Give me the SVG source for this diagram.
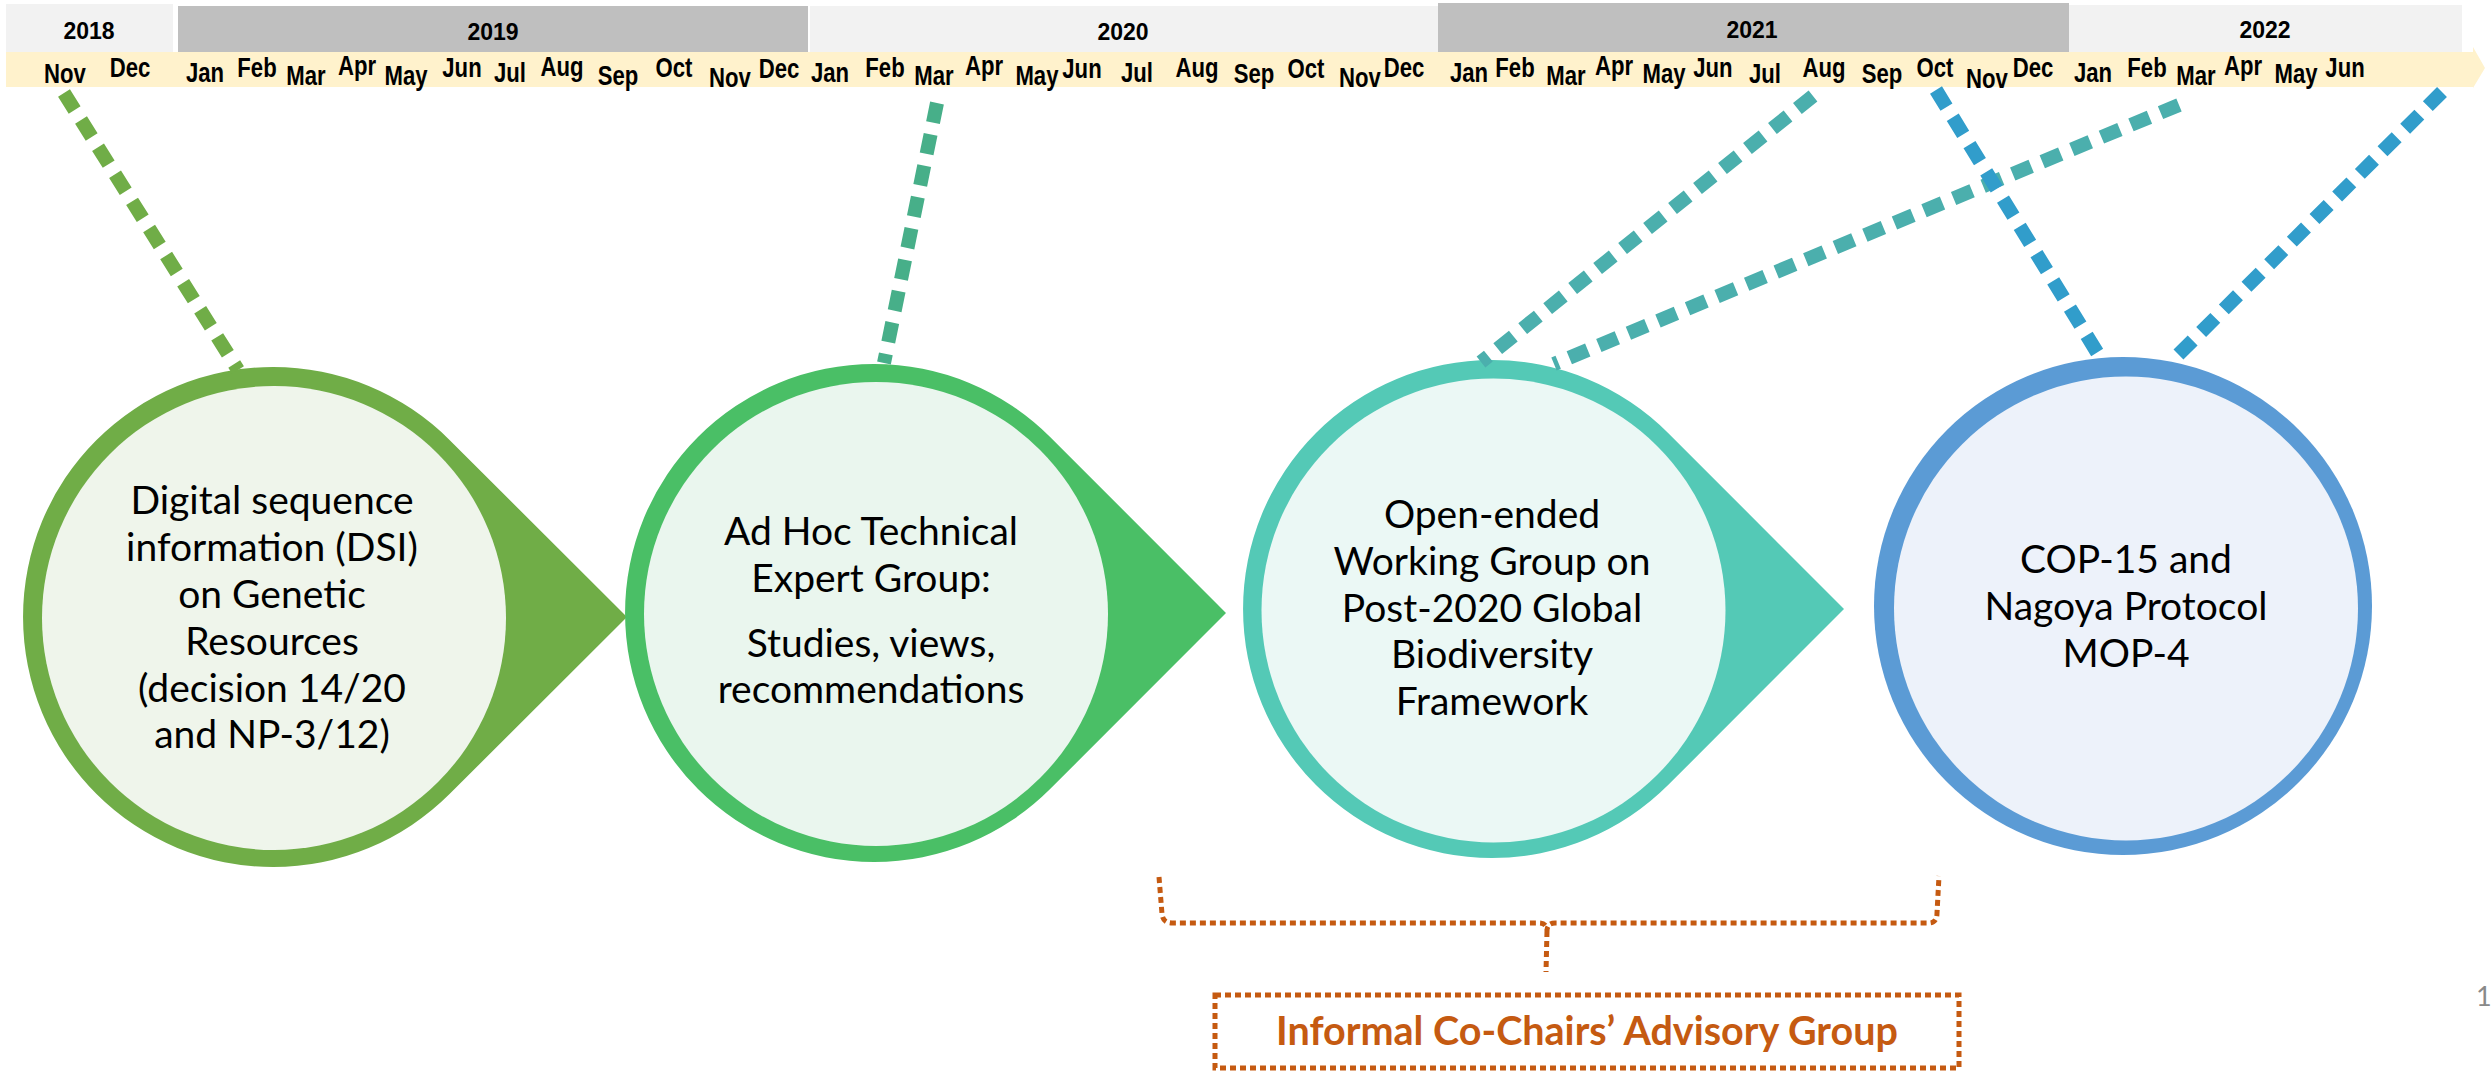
<svg xmlns="http://www.w3.org/2000/svg" width="2491" height="1073" viewBox="0 0 2491 1073">
<style>
.yr{font-family:"Liberation Sans",Arial,sans-serif;font-weight:bold;font-size:23px;text-anchor:middle;fill:#000}
.mo{font-family:"Liberation Sans",Arial,sans-serif;font-weight:bold;font-size:27px;text-anchor:middle;fill:#000}
.lt{fill:#F2F2F2}.dk{fill:#BFBFBF}
.nt{font-family:Lato,"Open Sans",sans-serif;font-size:39px;text-anchor:middle;fill:#000}
.dash{fill:none;stroke-width:14;stroke-dasharray:20 12}
.dot{fill:none;stroke:#C55A11;stroke-width:5;stroke-dasharray:6 4}
</style>
<rect width="2491" height="1073" fill="#fff"/>
<g id="timeline">
<rect class="lt" x="6" y="4" width="167" height="49"/>
<rect class="dk" x="178" y="6" width="630" height="48"/>
<rect class="lt" x="810" y="6" width="628" height="48"/>
<rect class="dk" x="1438" y="3" width="631" height="50"/>
<rect class="lt" x="2069" y="5" width="393" height="48"/>
<path d="M6,52 L2473,52 L2473,47 L2485,68 L2473,88 L2473,87 L6,87 Z" fill="#FFF2CC"/>
<text class="yr" x="89" y="39">2018</text>
<text class="yr" x="493" y="40">2019</text>
<text class="yr" x="1123" y="40">2020</text>
<text class="yr" x="1752" y="38">2021</text>
<text class="yr" x="2265" y="38">2022</text>
<g transform="scale(0.82,1)">
<text class="mo" x="79.3" y="83.5">Nov</text>
<text class="mo" x="158.5" y="77">Dec</text>
<text class="mo" x="250" y="82">Jan</text>
<text class="mo" x="313.4" y="77">Feb</text>
<text class="mo" x="373.2" y="85.5">Mar</text>
<text class="mo" x="435.4" y="75.5">Apr</text>
<text class="mo" x="495.1" y="85.5">May</text>
<text class="mo" x="563.4" y="77.5">Jun</text>
<text class="mo" x="622" y="82.5">Jul</text>
<text class="mo" x="685.4" y="76.5">Aug</text>
<text class="mo" x="753.7" y="85">Sep</text>
<text class="mo" x="822" y="77">Oct</text>
<text class="mo" x="890.2" y="87">Nov</text>
<text class="mo" x="950" y="78">Dec</text>
<text class="mo" x="1012.2" y="82">Jan</text>
<text class="mo" x="1079.3" y="77">Feb</text>
<text class="mo" x="1139" y="85.5">Mar</text>
<text class="mo" x="1200" y="75.5">Apr</text>
<text class="mo" x="1264.6" y="85.5">May</text>
<text class="mo" x="1319.5" y="78.5">Jun</text>
<text class="mo" x="1386.6" y="82">Jul</text>
<text class="mo" x="1459.8" y="77">Aug</text>
<text class="mo" x="1529.3" y="83.5">Sep</text>
<text class="mo" x="1592.7" y="78">Oct</text>
<text class="mo" x="1658.5" y="87">Nov</text>
<text class="mo" x="1712.2" y="77">Dec</text>
<text class="mo" x="1791.5" y="82">Jan</text>
<text class="mo" x="1847.6" y="77">Feb</text>
<text class="mo" x="1909.8" y="85.5">Mar</text>
<text class="mo" x="1968.3" y="75.5">Apr</text>
<text class="mo" x="2029.3" y="83.5">May</text>
<text class="mo" x="2089" y="77">Jun</text>
<text class="mo" x="2152.4" y="83.5">Jul</text>
<text class="mo" x="2224.4" y="77">Aug</text>
<text class="mo" x="2295.1" y="83.5">Sep</text>
<text class="mo" x="2359.8" y="77">Oct</text>
<text class="mo" x="2423.2" y="88.5">Nov</text>
<text class="mo" x="2479.3" y="77">Dec</text>
<text class="mo" x="2552.4" y="82">Jan</text>
<text class="mo" x="2618.3" y="77">Feb</text>
<text class="mo" x="2678" y="85.5">Mar</text>
<text class="mo" x="2735.4" y="75.5">Apr</text>
<text class="mo" x="2800" y="83.5">May</text>
<text class="mo" x="2859.8" y="77">Jun</text>
</g>
</g>
<g id="node-dsi">
<path d="M627,617 L449.8,440.2 A250,250 0 1 0 449.8,793.8 Z" fill="#70AD47"/>
<circle cx="274" cy="618" r="232" fill="#EFF5EB"/>
<text class="nt" x="272" y="514">Digital sequence</text>
<text class="nt" x="272" y="561">information (DSI)</text>
<text class="nt" x="272" y="608">on Genetic</text>
<text class="nt" x="272" y="655">Resources</text>
<text class="nt" x="272" y="702">(decision 14/20</text>
<text class="nt" x="272" y="748">and NP-3/12)</text>
</g>
<g id="node-ahteg">
<path d="M1226,613 L1050.1,436.9 A249,249 0 1 0 1050.1,789.1 Z" fill="#4ABF66"/>
<circle cx="876" cy="614" r="232" fill="#EAF6EE"/>
<text class="nt" x="871" y="545">Ad Hoc Technical</text>
<text class="nt" x="871" y="592">Expert Group:</text>
<text class="nt" x="871" y="657">Studies, views,</text>
<text class="nt" x="871" y="703">recommendations</text>
</g>
<g id="node-oewg">
<path d="M1844,609 L1668.1,432.9 A249,249 0 1 0 1668.1,785.1 Z" fill="#54C9B6"/>
<circle cx="1493.5" cy="610.5" r="232" fill="#EBF8F5"/>
<text class="nt" x="1492" y="528">Open-ended</text>
<text class="nt" x="1492" y="575">Working Group on</text>
<text class="nt" x="1492" y="622">Post-2020 Global</text>
<text class="nt" x="1492" y="668">Biodiversity</text>
<text class="nt" x="1492" y="715">Framework</text>
</g>
<g id="node-cop15">
<circle cx="2123" cy="606" r="249" fill="#5B9BD5"/>
<circle cx="2126" cy="608.5" r="232" fill="#EDF2FA"/>
<text class="nt" x="2126" y="573">COP-15 and</text>
<text class="nt" x="2126" y="620">Nagoya Protocol</text>
<text class="nt" x="2126" y="667">MOP-4</text>
</g>
<g id="connectors">
<line class="dash" x1="64" y1="93" x2="238" y2="370" stroke="#70AD47"/>
<line class="dash" x1="937" y1="103" x2="884" y2="363" stroke="#47AF89"/>
<line class="dash" x1="1813" y1="96" x2="1481" y2="362" stroke="#4BAFAD"/>
<line class="dash" x1="2179" y1="105" x2="1554" y2="364" stroke="#4BAFAD"/>
<line class="dash" x1="1936" y1="90" x2="2103" y2="362" stroke="#319DCB"/>
<line class="dash" x1="2442" y1="92" x2="2172" y2="361" stroke="#319DCB"/>
<path class="dot" d="M1159,877 L1162,914 Q1163,923 1172,923 L1539,923 Q1547,923 1547,931 Q1547,923 1555,923 L1929,923 Q1937,923 1937,913 L1939,876"/>
<path class="dot" d="M1547,931 L1546,972"/>
</g>
<g id="node-advisory">
<rect class="dot" x="1215" y="995" width="744" height="73"/>
<text x="1587" y="1045" font-family="Lato,'Open Sans',sans-serif" font-weight="bold" font-size="39.5" text-anchor="middle" fill="#C55A11">Informal Co-Chairs’ Advisory Group</text>
</g>
<text x="2476" y="1006" font-family="Lato,'Open Sans',sans-serif" font-size="27" fill="#898989">1</text>
</svg>
